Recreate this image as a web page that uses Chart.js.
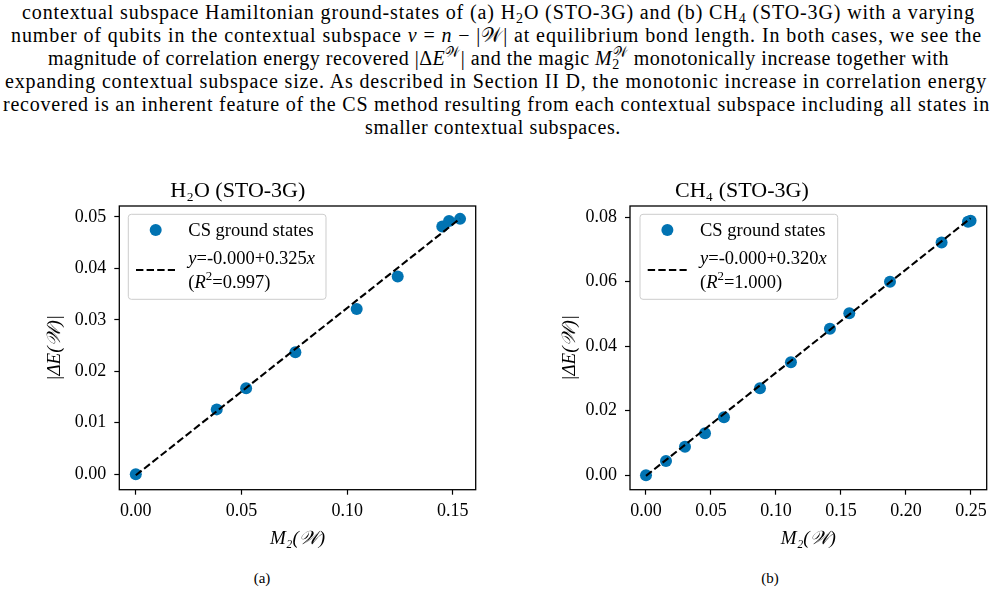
<!DOCTYPE html>
<html><head><meta charset="utf-8">
<script src="https://cdn.jsdelivr.net/npm/chart.js@4.4.1/dist/chart.umd.min.js"></script>
<style>
html,body{margin:0;padding:0;background:#fff;}
body{width:995px;height:610px;position:relative;overflow:hidden;font-family:'Liberation Serif','DejaVu Serif',serif;color:#000;}
.cap{position:absolute;font-family:'Liberation Serif','DejaVu Serif',serif;font-size:20px;line-height:23px;white-space:nowrap;}
.cap sub,.cap sup{font-size:14px;line-height:0;vertical-align:baseline;position:relative;}
.cap sub{top:4px;}
.cap sup{top:-8px;}
.sub{position:absolute;font-family:'Liberation Serif','DejaVu Serif',serif;font-size:15px;line-height:18px;transform:translateX(-50%);}
canvas{position:absolute;}
</style></head><body>
<div class="cap" data-l="22" data-r="975" style="top:1px">contextual subspace Hamiltonian ground-states of (a) H<sub>2</sub>O (STO-3G) and (b) CH<sub>4</sub> (STO-3G) with a varying</div>
<div class="cap" data-l="11" data-r="983" style="top:24px">number of qubits in the contextual subspace <i>ν</i> = <i>n</i> − |𝒲| at equilibrium bond length. In both cases, we see the</div>
<div class="cap" data-l="48" data-r="950" style="top:47px">magnitude of correlation energy recovered |Δ<i>E</i><sup>𝒲</sup>| and the magic <i>M</i><sub>2</sub><sup style="margin-left:-7px">𝒲</sup> monotonically increase together with</div>
<div class="cap" data-l="5" data-r="987" style="top:70px">expanding contextual subspace size. As described in Section II D, the monotonic increase in correlation energy</div>
<div class="cap" data-l="3" data-r="990" style="top:93px">recovered is an inherent feature of the CS method resulting from each contextual subspace including all states in</div>
<div class="cap" data-l="365" data-r="621" style="top:116px">smaller contextual subspaces.</div>

<canvas id="ca" width="497" height="400" style="left:0px;top:160px"></canvas>
<canvas id="cb" width="498" height="400" style="left:497px;top:160px"></canvas>
<div class="sub" style="left:262px;top:569px">(a)</div>
<div class="sub" style="left:770px;top:569px">(b)</div>

<script>
// ---- data ----
const h2oM2 = [0, 0.0383, 0.0522, 0.0755, 0.1045, 0.1239, 0.1450, 0.1482, 0.1534];
const h2oDE = [0, 0.0126, 0.0167, 0.0237, 0.0321, 0.0384, 0.0481, 0.0492, 0.0496];
const ch4M2 = [0, 0.0154, 0.0300, 0.0454, 0.0600, 0.0877, 0.1115, 0.1415, 0.1564, 0.1877, 0.2274, 0.2477, 0.2497];
const ch4DE = [0, 0.0044, 0.0088, 0.0130, 0.0180, 0.0270, 0.0350, 0.0454, 0.0502, 0.0600, 0.0722, 0.0786, 0.0789];
// linear fit: [intercept, slope, R^2]
const h2oFit = [-0.0002, 0.325, 0.997];
const ch4Fit = [-0.0002, 0.320, 1.000];
const h2oXTicks = [0.00, 0.05, 0.10, 0.15];
const h2oYTicks = [0.00, 0.01, 0.02, 0.03, 0.04, 0.05];
const ch4XTicks = [0.00, 0.05, 0.10, 0.15, 0.20, 0.25];
const ch4YTicks = [0.00, 0.02, 0.04, 0.06, 0.08];
const panelTitles = ['H₂O (STO-3G)', 'CH₄ (STO-3G)'];
const seriesLabel = 'CS ground states';
const xLabel = 'M₂(𝒲)';
const yLabel = '|ΔE(𝒲)|';

const FAM = '"Liberation Serif", serif';
const BLUE = '#0173B2';

// fit caption lines to their measured extents
document.querySelectorAll('.cap').forEach(d => {
  const l = +d.dataset.l, r = +d.dataset.r;
  d.style.left = l + 'px';
  const nat = d.getBoundingClientRect().width;
  const n = d.textContent.length;
  d.style.letterSpacing = ((r - l - nat) / n) + 'px';
});

function drawRich(ctx, segs, x, y, size, measureOnly) {
  for (const [t, st] of segs) {
    let f = size, dy = 0, style = '';
    if (st === 'i') style = 'italic ';
    if (st === 'sup') { f = size * 0.7; dy = -size * 0.36; }
    ctx.font = style + f + 'px ' + FAM;
    if (!measureOnly) ctx.fillText(t, x, y + dy);
    x += ctx.measureText(t).width;
  }
  return x;
}

const framePlugin = {
  id: 'frame',
  afterDatasetsDraw(chart) {
    const a = chart.chartArea, ctx = chart.ctx;
    ctx.save();
    ctx.strokeStyle = '#000'; ctx.lineWidth = 1.3;
    ctx.strokeRect(a.left, a.top, a.right - a.left, a.bottom - a.top);
    ctx.restore();
  }
};

const legendPlugin = {
  id: 'fitLegend',
  afterDraw(chart, args, opts) {
    const ctx = chart.ctx, a = chart.chartArea;
    const ptsDs = chart.data.datasets[1], lineDs = chart.data.datasets[0];
    const fit = lineDs.fit;
    const size = 18.5;
    const eq = [['y','i'], ['=' + fit[0].toFixed(3) + '+' + fit[1].toFixed(3), ''], ['x','i']];
    const r2 = [['(', ''], ['R','i'], ['2','sup'], ['=' + fit[2].toFixed(3) + ')', '']];
    ctx.save();
    ctx.font = size + 'px ' + FAM;
    const w1 = ctx.measureText(ptsDs.label).width;
    const w2 = drawRich(ctx, eq, 0, 0, size, true);
    const w3 = drawRich(ctx, r2, 0, 0, size, true);
    const bx = a.left + opts.dx, by = a.top + 8.3;
    const bw = 60 + Math.max(w1, w2, w3) + 11, bh = 85;
    ctx.beginPath();
    ctx.roundRect(bx, by, bw, bh, 3);
    ctx.fillStyle = 'rgba(255,255,255,0.8)'; ctx.fill();
    ctx.strokeStyle = '#cccccc'; ctx.lineWidth = 1; ctx.stroke();
    // marker
    ctx.beginPath();
    ctx.arc(bx + 27.4, by + 15.7, ptsDs.pointRadius, 0, Math.PI * 2);
    ctx.fillStyle = ptsDs.backgroundColor; ctx.fill();
    // dash sample
    ctx.beginPath();
    ctx.setLineDash(lineDs.borderDash);
    ctx.strokeStyle = lineDs.borderColor; ctx.lineWidth = lineDs.borderWidth;
    ctx.moveTo(bx + 7.7, by + 55.7); ctx.lineTo(bx + 46.7, by + 55.7); ctx.stroke();
    ctx.setLineDash([]);
    ctx.fillStyle = '#000'; ctx.textBaseline = 'middle'; ctx.textAlign = 'left';
    ctx.font = size + 'px ' + FAM;
    ctx.fillText(ptsDs.label, bx + 60, by + 16.5);
    drawRich(ctx, eq, bx + 60, by + 45, size);
    drawRich(ctx, r2, bx + 60, by + 68.5, size);
    ctx.restore();
  }
};

function makeChart(id, xs, ys, fit, xTicks, yTicks, title, xr, yr, g) {
  const pts = xs.map((x, i) => ({x: x, y: ys[i]}));
  const x0 = Math.min(...xs), x1 = Math.max(...xs);
  const line = [{x: x0, y: fit[0] + fit[1] * x0}, {x: x1, y: fit[0] + fit[1] * x1}];
  const tickFont = {family: FAM, size: 18};
  const grid = {display: true, drawOnChartArea: false, drawTicks: true, tickLength: 5, tickColor: '#000', tickWidth: 1.2};
  return new Chart(document.getElementById(id), {
    type: 'scatter',
    data: {datasets: [
      {label: 'fit', fit: fit, data: line, showLine: true, borderColor: '#000', borderWidth: 2.1,
       borderDash: [7.4, 3.2], pointRadius: 0, pointHoverRadius: 0, fill: false, order: 0},
      {label: seriesLabel, data: pts, backgroundColor: BLUE, borderColor: BLUE, pointRadius: 6,
       pointBorderWidth: 0, pointHoverRadius: 6, order: 1}
    ]},
    options: {
      animation: false, responsive: false, events: [],
      layout: {padding: {left: 0, right: g.padR, top: 0, bottom: 0}},
      plugins: {
        legend: {display: false}, tooltip: {enabled: false},
        title: {display: true, text: title, color: '#000', font: {family: FAM, size: 22, weight: 'normal'},
                padding: {top: 18, bottom: 1.6}},
        fitLegend: {dx: g.legDx}
      },
      scales: {
        x: {type: 'linear', position: 'bottom', min: xr[0], max: xr[1],
            afterBuildTicks: s => { s.ticks = xTicks.map(v => ({value: v})); },
            afterFit: s => { s.height = g.xh; },
            ticks: {callback: v => v.toFixed(2), font: tickFont, color: '#000', padding: 6, maxRotation: 0, autoSkip: false},
            grid: grid, border: {display: false},
            title: {display: true, text: xLabel, color: '#000', font: {family: FAM, size: 19, style: 'italic'},
                    padding: {top: 0, bottom: 10}}},
        y: {type: 'linear', position: 'left', min: yr[0], max: yr[1],
            afterBuildTicks: s => { s.ticks = yTicks.map(v => ({value: v})); },
            afterFit: s => { s.width = g.yw; },
            ticks: {callback: v => v.toFixed(2), font: tickFont, color: '#000', padding: 8, autoSkip: false},
            grid: grid, border: {display: false},
            title: {display: true, text: yLabel, color: '#000', font: {family: FAM, size: 19, style: 'italic'},
                    padding: {top: g.ytp, bottom: 0}}}
      }
    },
    plugins: [framePlugin, legendPlugin]
  });
}

makeChart('ca', h2oM2, h2oDE, h2oFit, h2oXTicks, h2oYTicks, panelTitles[0],
  [-0.0078, 0.1608], [-0.0030, 0.0521], {padR: 21.3, yw: 119.3, ytp: 43.6, xh: 70.3, legDx: 9});
makeChart('cb', ch4M2, ch4DE, ch4Fit, ch4XTicks, ch4YTicks, panelTitles[1],
  [-0.0123, 0.2621], [-0.0045, 0.0835], {padR: 8.3, yw: 133, ytp: 61.6, xh: 70.3, legDx: 10});
</script>
</body></html>
